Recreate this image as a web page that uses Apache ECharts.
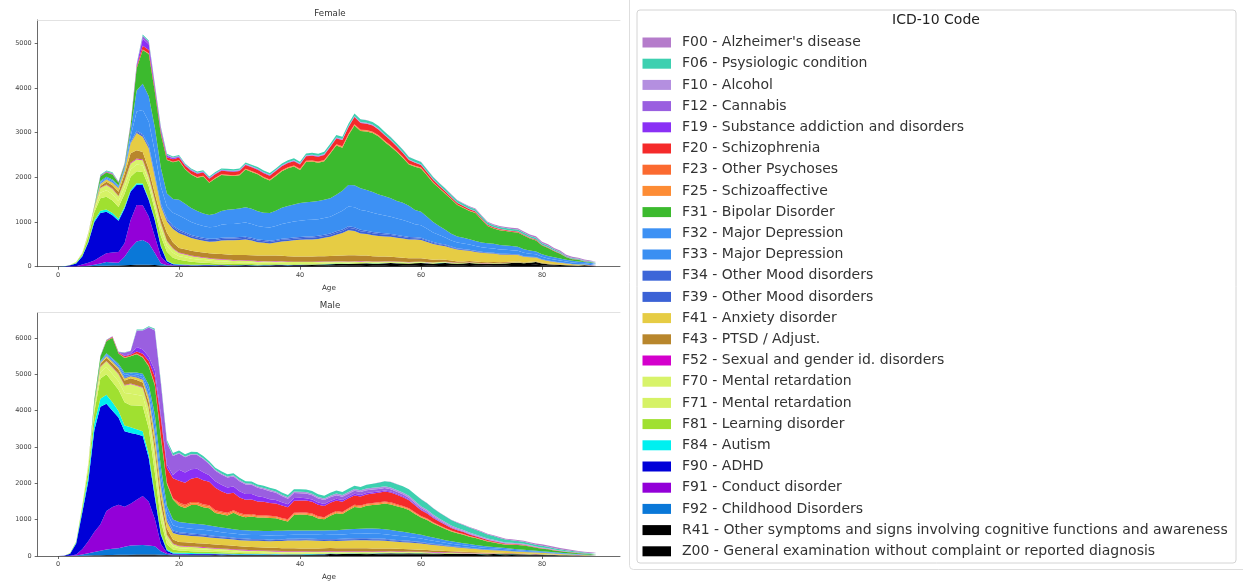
<!DOCTYPE html>
<html>
<head>
<meta charset="utf-8">
<script src="https://cdn.jsdelivr.net/npm/echarts@6/dist/echarts.min.js"></script>
<style>
html,body{margin:0;padding:0;background:#fff;}
#chart{width:1243px;height:582px;}
</style>
</head>
<body>
<div id="chart"></div>
<script>
// Age in years (x axis)
const ages = [
0,1,2,3,4,5,6,7,8,9,
10,11,12,13,14,15,16,17,18,19,
20,21,22,23,24,25,26,27,28,29,
30,31,32,33,34,35,36,37,38,39,
40,41,42,43,44,45,46,47,48,49,
50,51,52,53,54,55,56,57,58,59,
60,61,62,63,64,65,66,67,68,69,
70,71,72,73,74,75,76,77,78,79,
80,81,82,83,84,85,86,87,88,89];

const ageTicks = [0, 20, 40, 60, 80];
const femaleTicks = [0, 1000, 2000, 3000, 4000, 5000];
const maleTicks = [0, 1000, 2000, 3000, 4000, 5000, 6000];

// Diagnosis codes, bottom of the stack first
const codeLabels = [
'Z00 - General examination without complaint or reported diagnosis',
'R41 - Other symptoms and signs involving cognitive functions and awareness',
'F92 - Childhood Disorders',
'F91 - Conduct disorder',
'F90 - ADHD',
'F84 - Autism',
'F81 - Learning disorder',
'F71 - Mental retardation',
'F70 - Mental retardation',
'F52 - Sexual and gender id. disorders',
'F43 - PTSD / Adjust.',
'F41 - Anxiety disorder',
'F39 - Other Mood disorders',
'F34 - Other Mood disorders',
'F33 - Major Depression',
'F32 - Major Depression',
'F31 - Bipolar Disorder',
'F25 - Schizoaffective',
'F23 - Other Psychoses',
'F20 - Schizophrenia',
'F19 - Substance addiction and disorders',
'F12 - Cannabis',
'F10 - Alcohol',
'F06 - Psysiologic condition',
"F00 - Alzheimer's disease"];

const codeColors = [
'#000000','#000000','#0a78d8','#9300d8','#0000d8','#00f0f0','#a0e030','#d6f266','#d8f36a',
'#d400cc','#b8862c','#e6cc44','#3b62d6','#3d66d8','#3a8ff2','#3d91f4','#3cba2e',
'#fd8c35','#fb6a30','#f52a2a','#8a30f5','#9a5fe0','#b48fe0','#3dd0b0','#b57ccb'];

// ---------- Female counts by age ----------
const fZ00 = [
0,0,0,2,5,8,10,12,14,14,
15,16,18,20,22,20,18,15,12,12,
12,14,12,10,12,14,12,15,14,12,
14,16,14,12,15,14,16,18,15,16,
18,20,18,22,24,26,30,28,32,30,
34,36,32,30,34,38,36,32,30,34,
36,34,30,36,38,34,30,32,36,34,
30,28,32,30,34,38,40,36,40,44,
30,24,20,18,16,12,10,14,10,8];
const fR41 = [
0,0,0,0,2,4,6,8,10,12,
14,16,18,22,24,22,18,14,10,8,
8,10,8,10,12,10,8,12,10,10,
12,14,12,10,12,14,16,14,12,14,
16,18,20,22,24,28,30,32,28,34,
36,38,34,36,40,42,38,40,36,42,
44,40,36,42,46,40,36,38,44,40,
34,32,36,34,40,44,48,42,50,60,
40,30,24,22,18,14,12,16,12,8];
const fF92 = [
0,0,0,0,5,10,30,50,80,70,
60,190,380,520,550,480,270,50,10,5,
4,3,2,2,2,2,2,1,1,1,
1,1,1,1,1,1,1,1,1,1,
0,0,0,0,0,0,0,0,0,0,
0,0,0,0,0,0,0,0,0,0,
0,0,0,0,0,0,0,0,0,0,
0,0,0,0,0,0,0,0,0,0,
0,0,0,0,0,0,0,0,0,0];
const fF91 = [
0,0,5,10,38,68,94,150,196,224,
240,300,630,820,780,600,370,150,50,8,
5,4,3,3,2,2,2,2,1,1,
1,1,1,1,1,1,1,1,1,1,
1,0,0,0,0,0,0,0,0,0,
0,0,0,0,0,0,0,0,0,0,
0,0,0,0,0,0,0,0,0,0,
0,0,0,0,0,0,0,0,0,0,
0,0,0,0,0,0,0,0,0,0];
const fF90 = [
0,6,25,60,180,450,860,980,930,830,
700,780,635,450,450,370,365,220,40,20,
15,12,10,9,8,8,7,7,6,6,
6,5,5,5,5,4,4,4,4,4,
4,3,3,3,3,3,3,3,2,2,
2,2,2,2,2,1,1,1,1,1,
1,1,1,1,1,0,0,0,0,0,
0,0,0,0,0,0,0,0,0,0,
0,0,0,0,0,0,0,0,0,0];
const fF84 = [
0,4,5,10,15,25,40,50,50,50,
45,40,35,35,35,30,25,20,15,12,
10,9,8,8,7,7,6,6,6,5,
5,5,5,4,4,4,4,4,3,3,
3,3,3,3,3,2,2,2,2,2,
2,2,2,2,2,1,1,1,1,1,
1,1,1,1,1,0,0,0,0,0,
0,0,0,0,0,0,0,0,0,0,
0,0,0,0,0,0,0,0,0,0];
const fF81 = [
0,0,5,20,40,110,180,280,285,280,
260,290,295,270,260,270,200,220,200,135,
100,80,65,55,45,40,35,30,28,25,
22,20,20,18,18,16,16,15,15,14,
14,13,13,12,12,12,11,11,10,10,
10,10,9,9,9,8,8,8,7,7,
7,6,6,6,5,5,5,5,4,4,
4,4,3,3,3,3,3,2,2,2,
2,2,2,1,1,1,1,0,0,0];
const fF71 = [
0,0,0,4,8,33,55,125,145,143,
132,154,165,148,143,121,121,154,126,110,
82,77,71,66,60,55,52,49,47,44,
41,40,38,37,36,34,33,32,30,29,
27,26,25,25,24,23,22,22,21,20,
19,19,18,16,16,15,14,14,13,12,
11,10,10,9,9,8,8,7,7,6,
5,5,5,5,4,4,4,4,4,3,
3,3,3,2,2,2,2,1,1,1];
const fF70 = [
0,0,0,4,7,27,45,105,120,117,
108,126,135,122,117,99,99,126,104,90,
68,63,59,54,50,45,43,41,38,36,
34,32,32,31,29,28,27,26,25,23,
23,22,21,20,20,19,18,18,17,16,
16,15,14,14,14,13,12,11,11,10,
9,9,8,8,7,7,6,6,5,5,
5,5,4,4,4,4,4,3,3,3,
3,2,2,2,2,1,1,1,1,0];
const fF52 = [
0,0,0,0,2,3,4,8,10,10,
10,12,15,15,15,15,15,12,12,12,
12,14,15,14,13,12,12,11,10,10,
10,9,9,9,8,8,8,8,8,7,
7,7,7,7,6,6,6,6,6,6,
6,5,5,5,5,5,5,4,4,4,
4,4,4,3,3,3,3,3,3,2,
2,2,2,2,2,2,2,1,1,1,
1,1,1,1,1,1,1,1,1,1];
const fF43 = [
0,0,0,0,3,7,15,40,60,70,
95,150,210,185,170,155,135,140,180,130,
100,102,104,105,104,105,108,110,112,112,
114,116,118,120,122,126,124,122,120,118,
113,115,116,118,119,120,125,130,140,138,
125,122,118,112,106,100,95,90,85,80,
76,70,62,55,48,40,30,28,26,25,
25,24,22,20,18,16,15,14,12,11,
10,9,8,7,6,5,5,4,3,3];
const fF41 = [
0,0,0,0,3,8,10,40,50,60,
75,80,225,385,340,470,370,230,250,300,
335,310,285,270,265,260,275,300,320,330,
340,350,330,300,285,270,290,320,340,360,
375,380,385,390,410,430,470,500,560,540,
495,480,470,460,450,445,440,430,420,415,
410,380,350,320,300,280,265,250,230,215,
205,200,190,175,165,155,145,120,100,80,
65,55,45,35,28,20,15,10,7,5];
const fF39 = [
0,0,0,0,0,1,2,6,6,7,
7,12,18,30,36,36,36,36,42,45,
45,43,42,41,40,39,38,38,38,37,
37,37,36,36,36,35,36,37,37,38,
38,40,40,41,42,43,45,48,51,49,
48,47,45,43,42,40,37,35,33,31,
29,27,25,24,22,20,18,17,16,14,
13,12,11,11,10,10,9,8,8,7,
7,6,5,5,4,4,3,2,2,1];
const fF34 = [
0,0,0,0,0,1,1,4,4,5,
5,8,12,20,24,24,24,24,28,30,
30,29,28,27,26,26,26,26,25,25,
25,25,24,24,24,23,24,25,25,26,
26,26,26,27,28,29,30,32,34,33,
32,31,30,29,28,26,25,23,22,21,
19,18,17,16,14,13,12,11,10,10,
9,8,8,7,7,6,6,6,5,5,
4,4,4,3,3,2,2,2,1,1];
const fF33 = [
0,0,0,0,0,2,4,30,25,30,
25,30,120,430,540,530,500,380,270,290,
320,305,290,275,262,255,270,290,298,302,
310,317,312,302,293,298,312,330,345,355,
365,370,372,374,377,378,394,418,444,451,
446,437,427,413,398,384,365,355,336,293,
279,250,216,187,158,139,127,120,113,106,
101,98,96,94,91,86,82,74,67,60,
55,50,46,41,36,34,31,26,23,19];
const fF32 = [
0,0,0,0,0,3,4,30,25,30,
25,30,130,470,590,570,550,420,290,310,
350,335,310,295,283,275,290,310,322,328,
333,343,338,328,317,324,338,360,375,385,
396,400,403,406,408,410,426,452,481,489,
484,473,463,447,432,416,395,385,364,317,
303,270,234,203,172,151,138,130,122,114,
109,107,104,101,99,94,88,81,73,65,
60,55,49,44,39,36,34,29,25,21];
const fF31 = [
0,0,0,0,0,0,10,100,100,110,
60,40,120,500,750,950,800,750,750,820,
876,768,749,748,828,721,787,803,765,743,
740,842,824,828,779,729,780,819,846,848,
740,902,900,856,858,1002,1101,962,1112,1338,
1281,1310,1325,1296,1215,1152,1092,1003,922,970,
971,919,881,842,810,767,703,667,632,625,
510,383,342,330,320,315,321,306,265,248,
193,178,136,111,54,35,36,12,18,10];
const fF25 = [
0,0,0,0,0,0,0,2,2,3,
2,3,4,6,10,10,8,8,8,8,
8,9,10,10,11,11,12,12,12,13,
13,13,14,14,14,15,15,15,16,16,
16,16,17,17,18,18,18,19,20,20,
20,19,19,18,18,17,16,15,14,13,
12,11,10,10,9,9,8,8,7,7,
6,6,5,5,5,4,4,4,3,3,
3,2,2,2,2,1,1,1,1,1];
const fF23 = [
0,0,0,0,0,0,0,1,1,2,
1,2,3,4,6,6,5,4,4,4,
4,4,5,5,5,5,6,6,6,6,
6,6,7,7,7,7,7,8,8,8,
8,8,8,9,9,9,9,10,10,10,
10,10,9,9,9,8,8,8,7,7,
6,6,5,5,5,4,4,4,4,3,
3,3,3,3,2,2,2,2,2,2,
1,1,1,1,1,1,1,1,0,0];
const fF20 = [
0,0,0,0,0,0,0,5,5,8,
5,8,15,30,80,70,55,50,50,55,
60,65,70,70,72,75,75,78,78,80,
80,82,84,85,85,85,88,90,92,95,
95,100,105,110,115,120,130,140,150,160,
150,140,135,125,120,110,100,90,80,70,
60,55,50,45,40,35,32,30,28,26,
24,22,20,18,16,15,14,13,12,12,
10,9,8,7,6,5,4,3,2,2];
const fF19 = [
0,0,0,0,0,0,0,10,10,12,
8,10,15,30,160,130,60,50,30,20,
15,14,13,12,12,11,11,10,10,10,
10,10,9,9,9,9,8,8,8,8,
8,8,8,7,7,7,7,7,7,7,
6,6,6,6,5,5,5,5,4,4,
4,4,4,3,3,3,3,3,2,2,
2,2,2,2,2,2,2,2,1,1,
1,1,1,1,1,1,1,1,1,1];
const fF12 = [
0,0,0,0,0,0,0,5,5,6,
4,5,8,12,60,50,25,25,18,14,
12,11,10,9,8,8,7,7,6,6,
6,5,5,5,5,4,4,4,4,4,
4,4,4,4,3,3,3,3,3,3,
3,3,3,3,3,2,2,2,2,2,
2,2,2,2,2,1,1,1,1,1,
1,1,1,1,1,1,1,1,1,1,
1,1,1,1,1,1,1,1,1,1];
const fF10 = [
0,0,0,0,0,0,0,2,2,3,
2,2,3,4,6,6,5,5,5,4,
4,4,5,5,5,5,6,6,6,6,
7,7,7,8,8,8,9,9,9,10,
10,10,11,11,12,12,13,13,14,14,
14,14,13,13,12,12,11,10,10,9,
9,8,8,7,7,6,6,5,5,5,
4,4,4,3,3,3,3,3,2,2,
2,2,2,2,1,1,1,1,1,1];
const fF06 = [
0,0,0,0,0,0,0,15,15,16,
8,10,12,14,28,28,22,28,25,25,
25,25,26,27,28,29,30,30,31,32,
33,34,35,36,37,38,39,40,41,42,
43,44,45,46,48,50,52,54,56,58,
60,60,60,60,58,58,56,55,54,53,
52,50,49,48,47,46,45,44,43,42,
42,41,40,40,40,40,39,38,37,36,
35,32,28,24,20,17,14,12,10,8];
const fF00 = [
0,0,0,0,0,0,0,0,0,0,
0,0,0,0,0,0,0,0,0,0,
0,0,0,0,0,0,0,0,0,0,
0,0,0,0,0,0,0,0,0,0,
0,0,0,0,0,0,0,0,0,0,
1,1,1,2,2,2,3,3,4,4,
5,5,6,7,8,9,10,11,12,14,
16,18,20,22,24,26,28,30,32,34,
34,33,32,30,28,26,24,22,20,18];

// ---------- Male counts by age ----------
const mZ00 = [
0,0,0,2,4,7,10,12,14,15,
16,17,18,19,20,20,19,16,13,11,
10,11,10,12,12,12,13,12,13,12,
13,14,13,14,13,14,15,14,15,16,
17,18,19,20,22,27,25,26,28,29,
30,31,29,32,33,35,34,33,36,35,
35,33,31,32,30,30,29,27,28,26,
25,24,26,25,24,25,23,22,20,19,
18,15,13,11,9,8,6,5,4,3];
const mR41 = [
0,0,0,1,4,7,10,12,14,15,
16,17,18,19,20,20,19,16,13,11,
10,11,11,11,12,12,12,12,13,13,
13,13,13,14,14,14,15,15,16,16,
17,18,19,20,22,27,25,26,28,29,
30,31,29,32,33,35,34,33,36,35,
35,33,31,32,30,30,29,27,28,26,
25,24,26,25,24,25,23,22,20,19,
17,15,13,11,9,7,6,5,4,3];
const mF92 = [
0,0,0,10,30,60,90,120,150,170,
180,220,250,260,260,250,230,100,30,10,
8,7,6,5,5,5,4,4,3,3,
1,1,1,1,1,1,1,1,1,1,
0,0,0,0,0,0,0,0,0,0,
0,0,0,0,0,0,0,0,0,0,
0,0,0,0,0,0,0,0,0,0,
0,0,0,0,0,0,0,0,0,0,
0,0,0,0,0,0,0,0,0,0];
const mF91 = [
0,0,5,30,150,330,550,720,1060,1150,
1200,1100,1150,1250,1350,1200,750,200,30,10,
10,9,8,7,7,6,5,5,4,3,
2,2,2,2,2,1,1,1,1,1,
1,0,0,0,0,0,0,0,0,0,
0,0,0,0,0,0,0,0,0,0,
0,0,0,0,0,0,0,0,0,0,
0,0,0,0,0,0,0,0,0,0,
0,0,0,0,0,0,0,0,0,0];
const mF90 = [
0,6,55,300,1000,1650,2800,3240,2950,2650,
2400,2080,1950,1800,1650,1210,600,250,60,30,
25,24,23,22,21,20,18,16,15,13,
12,11,10,10,9,8,8,7,7,6,
6,6,5,5,5,5,4,4,4,4,
4,3,3,3,3,3,3,2,2,2,
2,2,2,2,1,1,1,1,1,1,
1,1,1,1,1,1,1,1,1,1,
0,0,0,0,0,0,0,0,0,0];
const mF84 = [
0,4,10,30,80,150,200,220,250,230,
180,160,160,140,130,110,80,40,30,25,
25,24,23,22,21,20,19,18,17,16,
15,14,14,13,13,12,12,11,11,10,
10,10,9,9,9,8,8,8,7,7,
7,7,6,6,6,6,5,5,5,5,
4,4,4,4,3,3,3,3,2,2,
2,2,2,2,2,1,1,1,1,1,
1,1,1,1,1,1,0,0,0,0];
const mF81 = [
0,0,10,20,90,200,300,560,560,560,
580,640,600,650,700,700,600,350,150,80,
60,56,52,48,44,40,37,34,31,28,
25,23,21,20,19,18,17,16,15,14,
14,13,13,12,12,11,11,10,10,9,
9,9,8,8,8,7,7,7,6,6,
6,6,5,5,5,5,4,4,4,4,
3,3,3,3,3,3,2,2,2,2,
2,2,2,1,1,1,1,1,1,1];
const mF71 = [
0,0,0,4,22,65,90,175,200,220,
240,250,320,300,270,300,330,250,140,85,
66,65,63,62,59,55,53,51,48,46,
44,42,40,37,35,33,32,31,30,29,
28,27,26,26,25,25,24,24,23,23,
22,21,21,20,20,19,19,18,17,16,
15,14,14,13,12,11,10,9,9,8,
8,7,7,6,6,6,5,5,4,4,
4,3,3,3,3,2,2,2,2,1];
const mF70 = [
0,0,0,3,18,55,70,145,160,180,
190,210,270,250,230,250,270,200,110,65,
54,53,52,50,49,45,43,41,40,38,
36,34,32,31,29,27,26,25,24,23,
22,22,22,21,21,20,20,19,19,18,
18,18,17,17,16,16,15,14,13,13,
13,12,11,10,10,9,9,8,7,7,
6,6,5,5,5,4,4,4,4,3,
3,3,3,2,2,2,2,1,1,1];
const mF52 = [
0,0,0,0,0,0,5,8,10,10,
10,12,12,12,12,15,15,15,15,15,
15,15,15,15,15,15,15,15,15,15,
15,15,15,15,15,15,15,14,14,14,
14,14,14,14,14,14,14,14,14,14,
14,13,13,13,13,12,12,12,11,11,
10,10,9,9,9,8,8,8,7,7,
6,6,5,5,5,4,4,4,4,3,
3,3,3,2,2,2,2,1,1,1];
const mF43 = [
0,0,0,0,0,10,30,70,90,100,
110,120,140,140,130,160,200,220,160,110,
100,100,100,100,100,100,98,96,94,92,
90,88,86,85,84,82,82,81,80,80,
80,80,80,80,80,80,80,80,80,80,
80,80,78,76,74,70,68,66,62,58,
55,50,46,42,38,35,32,29,26,23,
20,18,17,16,14,12,11,10,9,9,
8,7,6,5,5,4,3,3,2,2];
const mF41 = [
0,0,0,0,0,10,15,30,40,45,
50,60,60,70,80,120,200,220,200,180,
200,195,190,188,185,180,178,176,174,172,
170,172,174,176,178,180,190,200,210,215,
220,222,218,212,205,200,205,210,215,218,
220,222,225,222,215,200,195,190,185,178,
170,160,150,140,130,120,112,104,96,88,
80,74,68,62,56,50,46,42,38,34,
30,26,22,18,15,12,10,8,6,5];
const mF39 = [
0,0,0,0,0,0,3,9,12,12,
12,18,18,24,24,36,48,48,48,42,
42,41,40,39,38,36,35,34,32,31,
30,30,29,29,28,27,28,28,29,29,
30,30,30,30,30,30,31,31,32,32,
33,33,33,32,31,30,29,28,26,25,
24,22,20,19,17,15,14,13,11,10,
9,8,8,7,7,6,5,5,4,4,
4,3,3,2,2,2,2,1,1,1];
const mF34 = [
0,0,0,0,0,0,2,6,8,8,
8,12,12,16,16,24,32,32,32,28,
28,27,26,26,26,24,23,22,22,21,
20,20,20,19,19,18,18,19,19,20,
20,20,20,20,20,20,20,21,21,22,
22,22,22,22,21,20,19,18,18,17,
16,15,14,12,11,10,9,8,8,7,
6,6,5,5,4,4,4,3,3,3,
2,2,2,2,2,1,1,1,1,1];
const mF33 = [
0,0,0,0,0,5,12,20,30,40,
50,65,35,50,60,145,240,240,170,145,
135,134,133,132,131,130,125,120,115,113,
110,109,109,110,111,115,113,111,109,108,
106,108,110,113,114,115,118,120,122,124,
125,127,130,130,127,125,120,115,108,101,
96,89,82,74,67,62,58,54,50,46,
43,40,37,35,32,29,27,25,23,21,
19,17,15,13,12,10,8,7,6,5];
const mF32 = [
0,0,0,0,0,5,13,20,30,40,
50,65,35,50,60,155,260,260,180,155,
145,144,143,142,141,140,135,130,125,122,
120,119,119,120,121,125,123,121,119,117,
114,117,120,122,124,125,127,130,133,134,
135,138,140,140,138,135,130,125,117,109,
104,96,88,81,73,68,62,58,54,50,
47,44,41,37,34,31,29,27,25,23,
21,19,17,15,12,10,9,7,6,5];
const mF31 = [
0,0,0,0,0,0,100,120,330,560,
280,400,450,500,450,500,800,800,600,550,
447,403,505,521,477,475,368,361,355,451,
394,362,392,360,366,355,341,294,249,428,
441,431,402,327,306,398,467,430,520,605,
580,625,647,663,704,705,676,659,621,545,
471,446,385,341,307,266,245,232,202,187,
169,137,121,105,95,110,118,119,100,79,
69,67,50,45,38,35,26,24,17,18];
const mF25 = [
0,0,0,0,0,0,0,0,5,5,
5,10,5,10,10,15,20,20,20,20,
50,50,49,48,47,45,44,43,42,41,
40,40,39,38,37,35,35,35,35,35,
35,35,35,35,35,35,35,35,35,35,
35,35,35,35,35,35,33,31,29,27,
25,22,20,18,16,15,13,12,11,9,
8,7,7,6,6,5,5,4,4,3,
3,2,2,2,1,1,1,1,0,0];
const mF23 = [
0,0,0,0,0,0,0,0,5,5,
5,10,5,10,10,15,20,20,20,20,
40,40,39,38,37,35,34,33,32,31,
30,30,29,28,27,25,25,25,25,25,
25,25,25,25,25,25,25,25,25,25,
25,25,25,25,25,25,24,23,22,21,
20,18,17,15,14,12,11,10,9,8,
6,6,5,5,4,4,3,3,3,2,
2,2,2,1,1,1,1,1,0,0];
const mF20 = [
0,0,0,0,0,0,0,5,10,15,
15,30,30,60,80,120,200,500,400,550,
600,610,640,670,660,650,620,560,520,480,
430,410,400,380,370,350,345,340,335,330,
330,330,325,320,310,300,290,280,270,260,
250,255,260,265,270,270,260,240,220,190,
160,140,120,100,85,70,60,50,42,36,
30,27,24,21,18,15,13,11,10,9,
8,7,6,5,4,3,3,2,2,1];
const mF19 = [
0,0,0,0,0,0,0,5,5,5,
5,20,20,120,120,120,170,100,100,90,
300,280,260,240,220,180,175,175,172,170,
170,160,150,140,125,110,100,90,82,76,
70,66,62,58,54,50,48,46,44,42,
40,38,36,34,32,30,28,26,24,22,
20,18,16,14,12,10,9,8,7,6,
6,5,5,4,4,4,3,3,3,2,
2,2,2,1,1,1,1,1,1,0];
const mF12 = [
0,0,0,0,0,0,0,5,10,10,
15,80,80,450,520,800,1100,850,600,520,
450,420,400,380,360,300,290,285,280,280,
280,260,250,235,220,220,200,170,150,140,
130,125,120,112,105,100,95,90,86,83,
80,76,72,68,64,60,56,52,48,45,
40,36,32,28,24,20,17,15,13,11,
10,9,8,7,7,6,6,5,5,4,
4,3,3,3,2,2,2,1,1,1];
const mF10 = [
0,0,0,0,0,0,0,0,0,0,
0,5,5,10,10,15,20,20,20,20,
20,21,22,22,23,25,26,27,28,29,
30,31,32,33,34,35,36,37,38,39,
40,41,42,43,44,45,46,47,48,49,
50,50,50,50,50,50,50,50,50,50,
50,48,46,44,42,40,38,36,34,32,
30,28,26,24,22,20,19,18,17,16,
15,13,12,11,10,8,7,6,5,4];
const mF06 = [
0,0,0,0,0,0,0,10,5,5,
5,5,5,20,20,20,30,40,50,60,
60,60,60,60,60,60,60,60,60,60,
60,60,60,60,60,60,62,64,66,68,
70,72,74,76,78,80,82,84,86,88,
90,100,110,125,140,150,160,170,180,185,
190,180,170,160,155,150,145,140,135,128,
120,110,100,90,80,70,62,56,50,47,
45,40,36,32,28,25,22,19,17,15];
const mF00 = [
0,0,0,0,0,0,0,0,0,0,
0,0,0,0,0,0,0,0,0,0,
0,0,0,0,0,0,0,0,0,0,
0,0,0,0,0,0,0,0,0,0,
0,0,0,0,0,0,0,0,0,0,
1,1,1,2,2,2,3,3,4,4,
5,6,7,8,9,10,12,14,16,18,
20,22,23,24,25,25,26,28,30,34,
40,38,36,34,30,27,25,23,22,20];

const femaleLayers = [fZ00,fR41,fF92,fF91,fF90,fF84,fF81,fF71,fF70,fF52,fF43,fF41,fF39,fF34,fF33,fF32,fF31,fF25,fF23,fF20,fF19,fF12,fF10,fF06,fF00];
const maleLayers = [mZ00,mR41,mF92,mF91,mF90,mF84,mF81,mF71,mF70,mF52,mF43,mF41,mF39,mF34,mF33,mF32,mF31,mF25,mF23,mF20,mF19,mF12,mF10,mF06,mF00];

const FONT = 'DejaVu Sans';

// Plot rectangles of the two panels
const panels = [
  {left: 37.7, top: 20, width: 582.3, height: 246.7, yMax: 5520, ticks: femaleTicks, title: 'Female'},
  {left: 37.7, top: 312.7, width: 582.3, height: 246.6, yMax: 6695, ticks: maleTicks, title: 'Male'}
];

// Each point is stored as [count, age] so that the count column is the one that stacks.
function stackSeries(layers, g) {
  return layers.map((vals, i) => ({
    name: codeLabels[i],
    type: 'line',
    xAxisIndex: g,
    yAxisIndex: g,
    stack: g === 0 ? 'female' : 'male',
    encode: {x: 1, y: 0},
    symbol: 'none',
    silent: true,
    lineStyle: {width: 0},
    itemStyle: {color: codeColors[i]},
    areaStyle: {color: codeColors[i], opacity: 1},
    emphasis: {disabled: true},
    data: ages.map((a, k) => [vals[k], a])
  }));
}

const xMin = -3.36, xMax = 92.89;
const plain = v => String(v);

const xAxes = [];
const yAxes = [];
panels.forEach((p, g) => {
  xAxes.push({
    type: 'value', gridIndex: g, min: xMin, max: xMax, position: 'bottom',
    name: 'Age', nameLocation: 'middle', nameGap: 18,
    nameTextStyle: {fontFamily: FONT, fontSize: 7.2, color: '#333'},
    axisLine: {show: true, onZero: false, lineStyle: {color: '#444', width: 0.8}},
    axisTick: {show: true, length: 3, lineStyle: {color: '#444', width: 0.8}, customValues: ageTicks},
    axisLabel: {show: true, fontFamily: FONT, fontSize: 6.5, color: '#444', margin: 5, customValues: ageTicks, formatter: plain},
    splitLine: {show: false}
  });
});
panels.forEach((p, g) => {
  // light frame line along the top of each panel
  xAxes.push({
    type: 'value', gridIndex: g, min: xMin, max: xMax, position: 'top',
    axisLine: {show: true, onZero: false, lineStyle: {color: '#e2e2e2', width: 1}},
    axisTick: {show: false}, axisLabel: {show: false}, splitLine: {show: false}
  });
  yAxes.push({
    type: 'value', gridIndex: g, min: 0, max: p.yMax,
    axisLine: {show: true, onZero: false, lineStyle: {color: '#444', width: 0.8}},
    axisTick: {show: true, length: 3, lineStyle: {color: '#444', width: 0.8}, customValues: p.ticks},
    axisLabel: {show: true, fontFamily: FONT, fontSize: 6.5, color: '#444', margin: 6, customValues: p.ticks, formatter: plain},
    splitLine: {show: false}
  });
});

const chart = echarts.init(document.getElementById('chart'), null, {renderer: 'canvas'});
chart.setOption({
  animation: false,
  backgroundColor: '#ffffff',
  textStyle: {fontFamily: FONT},
  grid: panels.map(p => ({left: p.left, top: p.top, width: p.width, height: p.height, containLabel: false})),
  xAxis: xAxes,
  yAxis: yAxes,
  legend: {
    data: codeLabels.slice().reverse(),
    orient: 'vertical',
    left: 642.5,
    top: 35.5,
    padding: 0,
    itemWidth: 28.5,
    itemHeight: 10,
    itemGap: 7.2,
    icon: 'rect',
    selectedMode: false,
    itemStyle: {borderWidth: 0},
    textStyle: {fontFamily: FONT, fontSize: 14, lineHeight: 14, color: '#333', padding: [0, 0, 0, 6]},
    z: 5
  },
  graphic: [
    // outer panel frame around the key
    {type: 'rect', z: 0, shape: {x: 629.5, y: -6, width: 620, height: 575.5, r: 4},
     style: {fill: 'none', stroke: '#dedede', lineWidth: 1}},
    {type: 'rect', z: 0, shape: {x: 637, y: 10, width: 599, height: 553, r: 3},
     style: {fill: '#ffffff', stroke: '#d4d4d4', lineWidth: 1}},
    {type: 'text', z: 1, style: {x: 936, y: 20, text: 'ICD-10 Code', align: 'center', verticalAlign: 'middle',
     font: '14px "DejaVu Sans"', fill: '#222'}},
    {type: 'text', z: 1, style: {x: 330, y: 13.3, text: panels[0].title, align: 'center', verticalAlign: 'middle',
     font: '8.7px "DejaVu Sans"', fill: '#333'}},
    {type: 'text', z: 1, style: {x: 330, y: 305.7, text: panels[1].title, align: 'center', verticalAlign: 'middle',
     font: '8.7px "DejaVu Sans"', fill: '#333'}}
  ],
  series: stackSeries(femaleLayers, 0).concat(stackSeries(maleLayers, 1))
});
</script>
</body>
</html>
